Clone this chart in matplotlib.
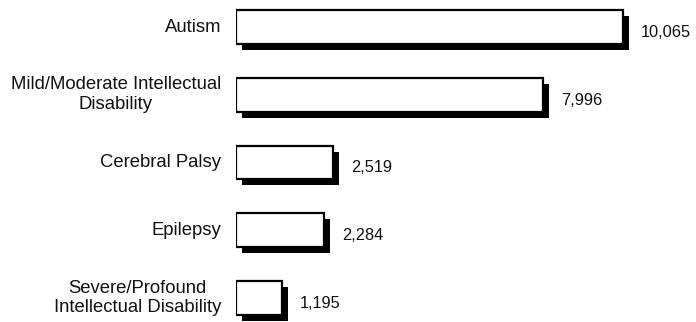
import matplotlib
matplotlib.use("Agg")
import matplotlib.pyplot as plt
import matplotlib.transforms as mtransforms

categories = ["Autism",
              "Mild/Moderate Intellectual\nDisability",
              "Cerebral Palsy",
              "Epilepsy",
              "Severe/Profound\nIntellectual Disability"]
values = [10065, 7996, 2519, 2284, 1195]
value_labels = ["10,065", "7,996", "2,519", "2,284", "1,195"]

plt.rcParams['font.family'] = ['Liberation Sans', 'DejaVu Sans']

W, H, DPI = 696, 322, 100
fig = plt.figure(figsize=(W / DPI, H / DPI), dpi=DPI)
left_px = 236
ax = fig.add_axes([left_px / W, 0, (W - left_px) / W, 1])
px_per_unit = 387 / 10065.0
ax.set_xlim(0, (W - left_px) / px_per_unit)
spacing = 67.75
ax.set_ylim(4 + (H - 298) / spacing, -27 / spacing)
ax.axis('off')

ypos = list(range(len(categories)))
shadow = mtransforms.offset_copy(ax.transData, fig=fig, x=6, y=-6, units='dots')
ax.barh(ypos, values, height=0.5, color='black', transform=shadow, zorder=1, linewidth=0)
ax.barh(ypos, values, height=0.5, color='white', edgecolor='black', linewidth=1.6, zorder=2)

lab_tr = mtransforms.offset_copy(ax.transData, fig=fig, x=-15, y=0, units='dots')
for y, c in zip(ypos, categories):
    ax.text(0, y, c, transform=lab_tr, ha='right', va='center', multialignment='center',
            fontsize=13.3, color='#111111', clip_on=False, linespacing=1.2)

val_tr = mtransforms.offset_copy(ax.transData, fig=fig, x=18, y=0, units='dots')
for y, v, t in zip(ypos, values, value_labels):
    ax.text(v, y + 0.08, t, transform=val_tr, ha='left', va='center',
            fontsize=11.8, color='#111111', clip_on=False)

fig.savefig("out.png", dpi=DPI)
